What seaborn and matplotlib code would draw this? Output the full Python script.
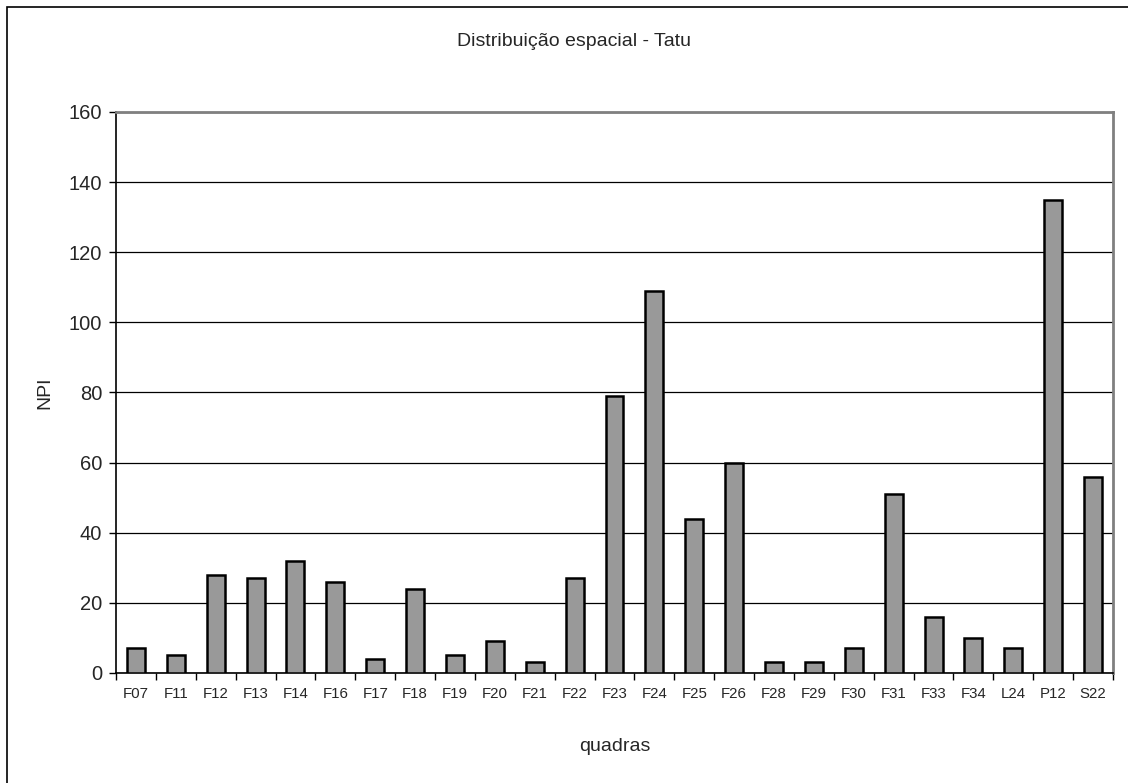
import pandas as pd
import numpy as np
import matplotlib.pyplot as plt
import seaborn as sns
from matplotlib.patches import Rectangle

# Data
quadras = ['F07', 'F11', 'F12', 'F13', 'F14', 'F16', 'F17', 'F18', 'F19', 'F20',
           'F21', 'F22', 'F23', 'F24', 'F25', 'F26', 'F28', 'F29', 'F30', 'F31',
           'F33', 'F34', 'L24', 'P12', 'S22']
npi = [7, 5, 28, 27, 32, 26, 4, 24, 5, 9,
       3, 27, 79, 109, 44, 60, 3, 3, 7, 51,
       16, 10, 7, 135, 56]
y_ticks = [0, 20, 40, 60, 80, 100, 120, 140, 160]

df = pd.DataFrame({'quadras': quadras, 'NPI': npi})

sns.set_style('white')
plt.rcParams['font.family'] = ['Liberation Sans', 'DejaVu Sans']

fig = plt.figure(figsize=(11.28, 7.83), dpi=100)
ax = fig.add_axes([116 / 1128, 1 - 673 / 783, (1113 - 116) / 1128, (673 - 112) / 783])

# outer chart-area border
fig.patches.append(Rectangle((7 / 1128, -0.01), 1.02, 1 - 7 / 783 + 0.01,
                             transform=fig.transFigure, fill=False,
                             edgecolor='black', linewidth=1.2))

sns.barplot(data=df, x='quadras', y='NPI', color='#999999', saturation=1,
            edgecolor='black', linewidth=1.8, width=0.45, ax=ax, zorder=3)

ax.set_ylim(0, 160)
ax.set_xlim(-0.5, len(quadras) - 0.5)
ax.set_yticks(y_ticks)
ax.set_yticklabels([str(t) for t in y_ticks], fontsize=14.5)
ax.yaxis.grid(True, color='black', linewidth=0.9)
ax.set_axisbelow(True)

# x ticks at category boundaries, labels centred
ax.set_xticks(np.arange(len(quadras)))
ax.set_xticklabels(quadras, fontsize=10.8)
ax.tick_params(axis='x', length=0, pad=10)
ax.set_xticks(np.arange(len(quadras) + 1) - 0.5, minor=True)
ax.tick_params(axis='x', which='minor', length=5, width=1, color='black', direction='out', bottom=True)
ax.tick_params(axis='y', length=5, width=1, color='black', direction='out', left=True, pad=5)

for side in ['left', 'bottom']:
    ax.spines[side].set_color('black')
    ax.spines[side].set_linewidth(1.2)
for side in ['top', 'right']:
    ax.spines[side].set_visible(True)
    ax.spines[side].set_color('#808080')
    ax.spines[side].set_linewidth(2)

ax.set_xlabel('quadras', fontsize=14)
ax.set_ylabel('NPI', fontsize=14)
ax.xaxis.set_label_coords(0.5, -0.116)
ax.yaxis.set_label_coords(-0.063, 0.5)
fig.text(574 / 1128, 1 - 41 / 783, 'Distribuição espacial - Tatu', ha='center', va='center', fontsize=14)

fig.savefig('out.png', dpi=100)
